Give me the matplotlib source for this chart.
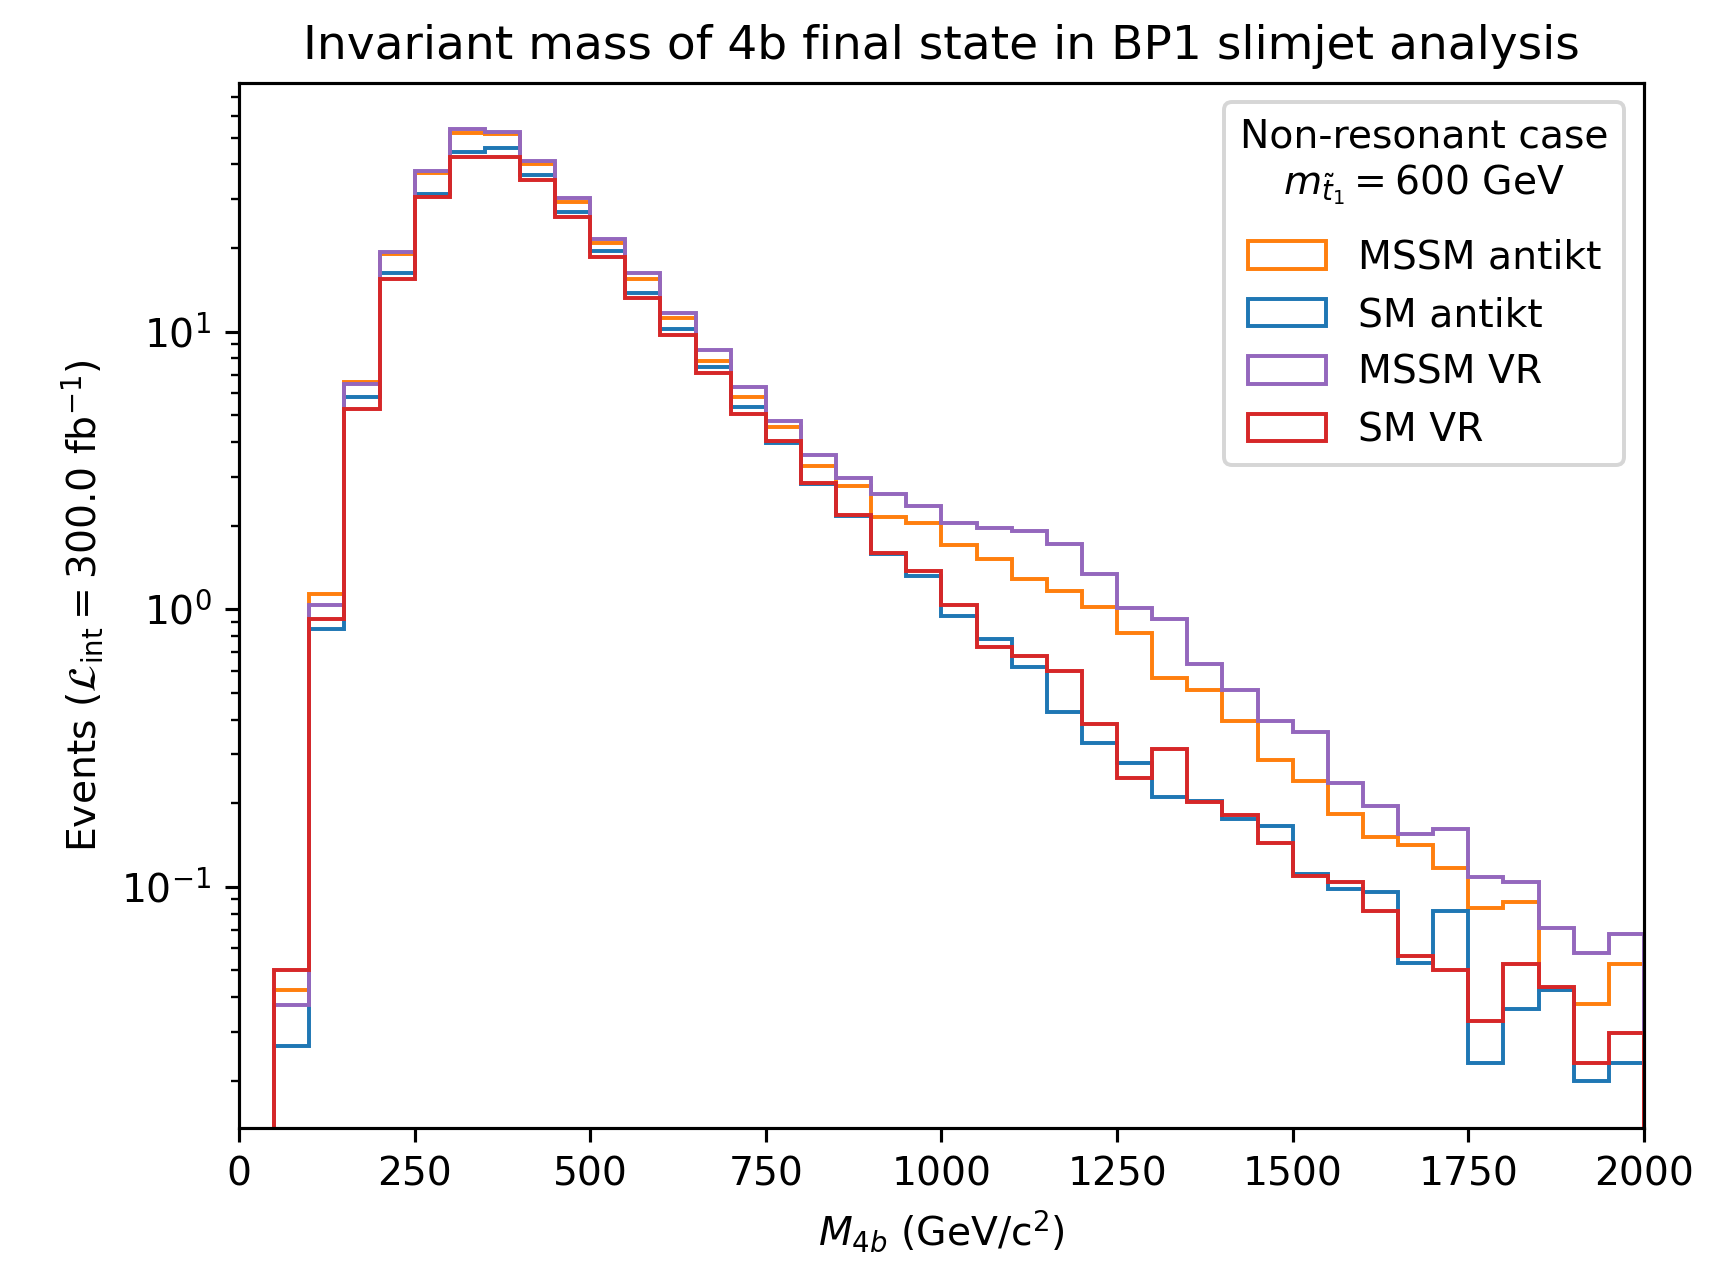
import numpy as np
import matplotlib
matplotlib.use('Agg')
import matplotlib.pyplot as plt

# histogram binning (GeV/c^2)
bin_edges = np.arange(0, 2001, 50)

# bin contents (40 bins, 0-50 is empty)
mssm_antikt = [0, 0.0424, 1.136, 6.6, 19.1, 37.4, 52.0, 51.5, 40.1, 29.4,
               20.8, 15.5, 11.2, 7.85, 5.8, 4.54, 3.28, 2.78, 2.15, 2.05,
               1.70, 1.51, 1.28, 1.165, 1.02, 0.82, 0.564, 0.5125, 0.395, 0.285,
               0.241, 0.183, 0.151, 0.141, 0.117, 0.084, 0.088, 0.0424, 0.0377, 0.0525]
sm_antikt = [0, 0.0267, 0.845, 5.79, 16.2, 31.3, 44.4, 45.7, 36.8, 27.0,
             19.5, 13.8, 10.2, 7.47, 5.36, 3.97, 2.83, 2.16, 1.58, 1.32,
             0.944, 0.782, 0.62, 0.427, 0.329, 0.278, 0.211, 0.204, 0.175, 0.166,
             0.111, 0.098, 0.096, 0.053, 0.082, 0.0231, 0.0362, 0.0424, 0.020, 0.0231]
mssm_vr = [0, 0.0376, 1.031, 6.45, 19.4, 37.9, 53.5, 52.5, 41.2, 30.4,
           21.5, 16.2, 11.65, 8.57, 6.34, 4.75, 3.58, 2.97, 2.59, 2.36,
           2.05, 1.965, 1.91, 1.71, 1.34, 1.01, 0.922, 0.634, 0.5125, 0.395,
           0.361, 0.236, 0.196, 0.1545, 0.162, 0.108, 0.1038, 0.071, 0.0577, 0.0678]
sm_vr = [0, 0.050, 0.923, 5.24, 15.5, 30.6, 42.4, 42.4, 35.3, 25.9,
         18.6, 13.2, 9.68, 7.12, 5.06, 4.04, 2.85, 2.19, 1.59, 1.375,
         1.035, 0.733, 0.678, 0.60, 0.385, 0.247, 0.313, 0.202, 0.1815, 0.144,
         0.109, 0.104, 0.082, 0.0561, 0.050, 0.0327, 0.0525, 0.0434, 0.0231, 0.0297]

labels = ['MSSM antikt', 'SM antikt', 'MSSM VR', 'SM VR']
colors = ['C1', 'C0', 'C4', 'C3']
series = [mssm_antikt, sm_antikt, mssm_vr, sm_vr]

dpi = 283
fig = plt.figure(figsize=(1727 / dpi, 1263 / dpi), dpi=dpi)
ax = fig.add_axes([0.1384, 0.1070, 0.8135, 0.8276])

centers = 0.5 * (bin_edges[:-1] + bin_edges[1:])
for vals, lab, col in zip(series, labels, colors):
    ax.hist(centers, bins=bin_edges, weights=vals, histtype='step',
            color=col, label=lab, log=True)

ax.set_xlim(0, 2000)
ax.set_ylim(0.01352, 78.9)
ax.set_xlabel(r'$M_{4b}$ (GeV/c$^2$)')
ax.set_ylabel(r'Events ($\mathcal{L}_{\mathrm{int}} = 300.0$ fb$^{-1}$)')
ax.set_title('Invariant mass of 4b final state in BP1 slimjet analysis')
leg = ax.legend(title='Non-resonant case\n' + r'$m_{\tilde{t}_1} = 600$ GeV',
                loc='upper right')
leg.get_title().set_multialignment('center')
# a bit more room between the title and the entries
leg._legend_box.sep = 8

fig.savefig('out.png', dpi=dpi)
